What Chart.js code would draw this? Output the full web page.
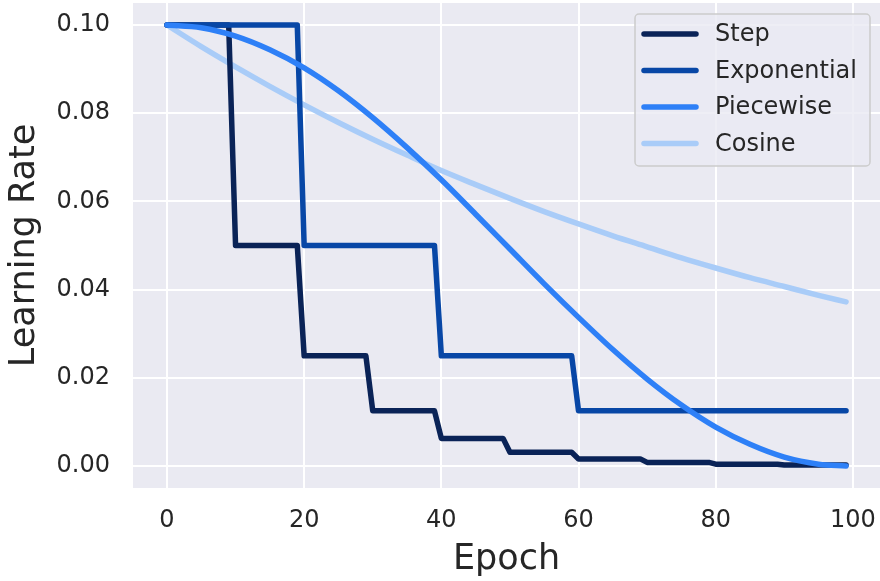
<!DOCTYPE html>
<html>
<head>
<meta charset="utf-8">
<script src="https://cdn.jsdelivr.net/npm/chart.js@4/dist/chart.umd.min.js"></script>
<style>
  body { margin: 0; background: #ffffff; }
  #wrap { width: 880px; height: 581px; }
</style>
</head>
<body>
<div id="wrap"><canvas id="lrChart" width="880" height="581"></canvas></div>
<script>
// Werte
const seriesNames = ['Step', 'Exponential', 'Piecewise', 'Cosine'];

const stepEpochs = [0, 9, 10, 19, 20, 29, 30, 39, 40, 49, 50, 59, 60, 69, 70, 79, 80, 89, 90, 99];
const stepValues = [0.1, 0.1, 0.05, 0.05, 0.025, 0.025, 0.0125, 0.0125, 0.00625, 0.00625,
                    0.0031, 0.0031, 0.0016, 0.0016, 0.0008, 0.0008, 0.0004, 0.0004, 0.0002, 0.0002];

const expEpochs = [0, 19, 20, 39, 40, 59, 60, 99];
const expValues = [0.1, 0.1, 0.05, 0.05, 0.025, 0.025, 0.0125, 0.0125];

const smoothEpochs = [0, 5, 10, 15, 20, 25, 30, 35, 40, 45, 50, 55, 60, 65, 70, 75, 80, 85, 90, 95, 99];
const piecewiseValues = [0.1, 0.0994, 0.0975, 0.0944, 0.0903, 0.0851, 0.0790, 0.0722, 0.0649, 0.0571, 0.0492,
                         0.0413, 0.0337, 0.0264, 0.0197, 0.0138, 0.0088, 0.0049, 0.0020, 0.0004, 0.0];
const cosineValues = [0.1, 0.0951, 0.0905, 0.0861, 0.0819, 0.0779, 0.0741, 0.0705, 0.0670, 0.0638, 0.0607,
                      0.0577, 0.0549, 0.0522, 0.0497, 0.0472, 0.0449, 0.0427, 0.0407, 0.0387, 0.0372];

const xTicks = [0, 20, 40, 60, 80, 100];
const xTickLabels = ['0', '20', '40', '60', '80', '100'];
const yTicks = [0, 0.02, 0.04, 0.06, 0.08, 0.10];
const yTickLabels = ['0.00', '0.02', '0.04', '0.06', '0.08', '0.10'];

const colors = ['#0a2357', '#0847a6', '#2e80f7', '#a9ccf8'];
const textColor = '#262626';
const fontFamily = "'DejaVu Sans', sans-serif";

function toPoints(xs, ys) {
    return xs.map((x, i) => ({ x: x, y: ys[i] }));
}

function lineSet(i, data, order, smooth) {
    return {
        label: seriesNames[i],
        data: data,
        borderColor: colors[i],
        backgroundColor: colors[i],
        borderWidth: 5.5,
        borderCapStyle: 'round',
        borderJoinStyle: 'round',
        pointRadius: 0,
        fill: false,
        order: order,
        cubicInterpolationMode: smooth ? 'monotone' : 'default',
        tension: 0
    };
}

// Hintergrund der Plotfläche
const plotBackground = {
    id: 'plotBackground',
    beforeDraw: (chart) => {
        const ctx = chart.ctx;
        const a = chart.chartArea;
        ctx.save();
        ctx.fillStyle = '#eaeaf2';
        ctx.fillRect(a.left, a.top, a.right - a.left, a.bottom - a.top);
        ctx.restore();
    }
};

// Legende oben rechts mit Rahmen
const boxLegend = {
    id: 'boxLegend',
    afterDraw: (chart) => {
        const ctx = chart.ctx;
        const x0 = 635, y0 = 14, w = 235, h = 152, r = 4;
        ctx.save();
        ctx.beginPath();
        ctx.moveTo(x0 + r, y0);
        ctx.arcTo(x0 + w, y0, x0 + w, y0 + h, r);
        ctx.arcTo(x0 + w, y0 + h, x0, y0 + h, r);
        ctx.arcTo(x0, y0 + h, x0, y0, r);
        ctx.arcTo(x0, y0, x0 + w, y0, r);
        ctx.closePath();
        ctx.fillStyle = 'rgba(234,234,242,0.8)';
        ctx.fill();
        ctx.strokeStyle = '#cccccc';
        ctx.lineWidth = 1.5;
        ctx.stroke();

        ctx.font = '24px ' + fontFamily;
        ctx.textBaseline = 'middle';
        ctx.textAlign = 'left';
        seriesNames.forEach((name, i) => {
            const yy = 34 + i * 36.5;
            ctx.beginPath();
            ctx.moveTo(644, yy);
            ctx.lineTo(696, yy);
            ctx.strokeStyle = colors[i];
            ctx.lineWidth = 5.5;
            ctx.lineCap = 'round';
            ctx.stroke();
            ctx.fillStyle = textColor;
            ctx.fillText(name, 715, yy + 1);
        });
        ctx.restore();
    }
};

const ctx = document.getElementById('lrChart').getContext('2d');

const myChart = new Chart(ctx, {
    type: 'line',
    data: {
        datasets: [
            lineSet(0, toPoints(stepEpochs, stepValues), 2, false),
            lineSet(1, toPoints(expEpochs, expValues), 1, false),
            lineSet(2, toPoints(smoothEpochs, piecewiseValues), 0, true),
            lineSet(3, toPoints(smoothEpochs, cosineValues), 3, true)
        ]
    },
    options: {
        responsive: false,
        animation: false,
        layout: { padding: { top: 3, right: 0, left: 0, bottom: 0 } },
        scales: {
            x: {
                type: 'linear',
                min: -4.95,
                max: 103.95,
                afterBuildTicks: (axis) => { axis.ticks = xTicks.map(v => ({ value: v })); },
                afterFit: (axis) => {
                    axis.height = 93;
                    axis.paddingLeft = 0;
                    axis.paddingRight = 0;
                },
                ticks: {
                    color: textColor,
                    font: { family: fontFamily, size: 24 },
                    padding: 18,
                    maxRotation: 0,
                    callback: (value, index) => xTickLabels[index]
                },
                grid: { color: '#ffffff', lineWidth: 2, drawTicks: false },
                border: { display: false },
                title: {
                    display: true,
                    text: 'Epoch',
                    color: textColor,
                    font: { family: fontFamily, size: 35 },
                    padding: { top: 0, bottom: 0 }
                }
            },
            y: {
                min: -0.005,
                max: 0.105,
                afterBuildTicks: (axis) => { axis.ticks = yTicks.map(v => ({ value: v })); },
                afterFit: (axis) => {
                    axis.width = 133;
                    axis.paddingTop = 0;
                    axis.paddingBottom = 0;
                },
                ticks: {
                    color: textColor,
                    font: { family: fontFamily, size: 24 },
                    padding: 23,
                    callback: (value, index) => yTickLabels[index]
                },
                grid: { color: '#ffffff', lineWidth: 2, drawTicks: false },
                border: { display: false },
                title: {
                    display: true,
                    text: 'Learning Rate',
                    color: textColor,
                    font: { family: fontFamily, size: 35 },
                    padding: { top: 4, bottom: 0 }
                }
            }
        },
        plugins: {
            legend: { display: false },
            tooltip: { enabled: false }
        }
    },
    plugins: [plotBackground, boxLegend]
});
</script>
</body>
</html>
